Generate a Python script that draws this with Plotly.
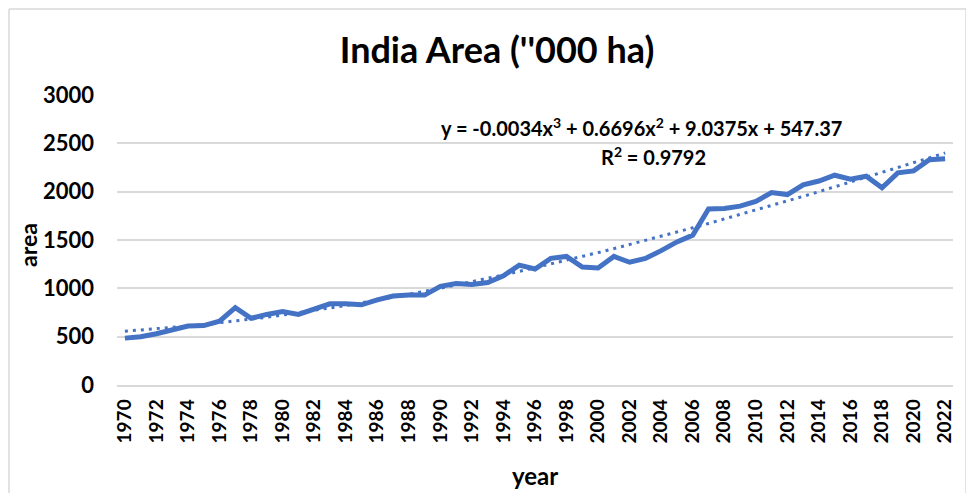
import numpy as np
import plotly.graph_objects as go

years = list(range(1970, 2023))
area = [485, 500, 530, 575, 610, 615, 660, 800, 690, 730,
        760, 730, 790, 840, 840, 830, 880, 920, 930, 930,
        1020, 1050, 1040, 1060, 1130, 1240, 1200, 1310, 1330, 1220,
        1210, 1330, 1270, 1310, 1390, 1480, 1550, 1820, 1825, 1850,
        1900, 1990, 1970, 2070, 2110, 2170, 2130, 2160, 2040, 2195,
        2215, 2330, 2340]
trend_coef = [-0.0034, 0.6696, 9.0375, 547.37]
tick_years = list(range(1970, 2023, 2))
y_ticks = [0, 500, 1000, 1500, 2000, 2500, 3000]

xi = np.arange(1, len(years) + 1)
trend = np.polyval(trend_coef, xi)

BLUE = "#4472C4"
FONT = "Lato, Open Sans, sans-serif"

fig = go.Figure()
fig.add_trace(go.Scatter(x=years, y=area, mode="lines",
                         line=dict(color=BLUE, width=5), showlegend=False))
fig.add_trace(go.Scatter(x=years, y=trend, mode="lines",
                         line=dict(color=BLUE, width=3, dash="3px,5px"), showlegend=False))

# page has an 8px body margin; work in page pixels and convert
OFF = 8
W, H = 974 - 2 * OFF, 501 - 2 * OFF
PL, PR, PT, PB = 117, 953, 95, 385          # plot area in page pixels
L, T = PL - OFF, PT - OFF
R, B = W - (PR - OFF), H - (PB - OFF)
pw, ph = W - L - R, H - T - B

def px_x(p):
    return (p - PL) / pw

def px_y(p):
    return (PB - p) / ph

border = dict(color="#d9d9d9", width=1.5)
bx0, bx1, by0, by1 = px_x(9), px_x(966), px_y(600), px_y(9)

fig.update_layout(
    width=W, height=H,
    margin=dict(l=L, r=R, t=T, b=B, autoexpand=False),
    paper_bgcolor="white", plot_bgcolor="white",
    font=dict(family=FONT, color="black"),
    title=dict(text="<b>India Area (''000 ha)</b>", x=(497 - OFF) / W,
               xanchor="center", y=1 - (50 - OFF) / H, yanchor="middle",
               font=dict(size=36, family=FONT)),
    xaxis=dict(range=[1969.5, 2022.5], tickmode="array", tickvals=tick_years,
               ticktext=[f"<b>{y}</b>" for y in tick_years], tickangle=-90,
               tickfont=dict(size=19), showgrid=False, zeroline=False,
               showline=True, linecolor="#d9d9d9", linewidth=1.5, ticks="",
               automargin=False, ticklabelstandoff=5,
               title=dict(text="<b>year</b>", font=dict(size=24), standoff=26)),
    yaxis=dict(range=[0, 3000], tickvals=y_ticks,
               ticktext=[f"<b>{v}</b>" for v in y_ticks],
               tickfont=dict(size=22), showgrid=True, gridcolor="#d9d9d9", gridwidth=1.5,
               zeroline=False, ticks="", ticklabelstandoff=22, automargin=False),
    shapes=[
        dict(type="line", xref="paper", yref="paper", x0=bx0, x1=bx0, y0=by0, y1=by1,
             line=border, layer="below"),
        dict(type="line", xref="paper", yref="paper", x0=bx0, x1=bx1, y0=by1, y1=by1,
             line=border, layer="below"),
        dict(type="line", xref="paper", yref="paper", x0=bx1, x1=bx1, y0=by0, y1=by1,
             line=border, layer="below"),
    ],
    annotations=[
        dict(text="<b>area</b>", xref="paper", yref="paper", x=px_x(28), y=px_y(245),
             xanchor="center", yanchor="middle", textangle=-90, showarrow=False,
             font=dict(size=23)),
        dict(text="<b>y = -0.0034x<sup>3</sup> + 0.6696x<sup>2</sup> + 9.0375x + 547.37</b>",
             xref="paper", yref="paper", x=px_x(641), y=px_y(127),
             xanchor="center", yanchor="middle", showarrow=False, font=dict(size=20)),
        dict(text="<b>R<sup>2</sup> = 0.9792</b>",
             xref="paper", yref="paper", x=px_x(653), y=px_y(156),
             xanchor="center", yanchor="middle", showarrow=False, font=dict(size=20)),
    ],
)

fig.write_html("out.html")
